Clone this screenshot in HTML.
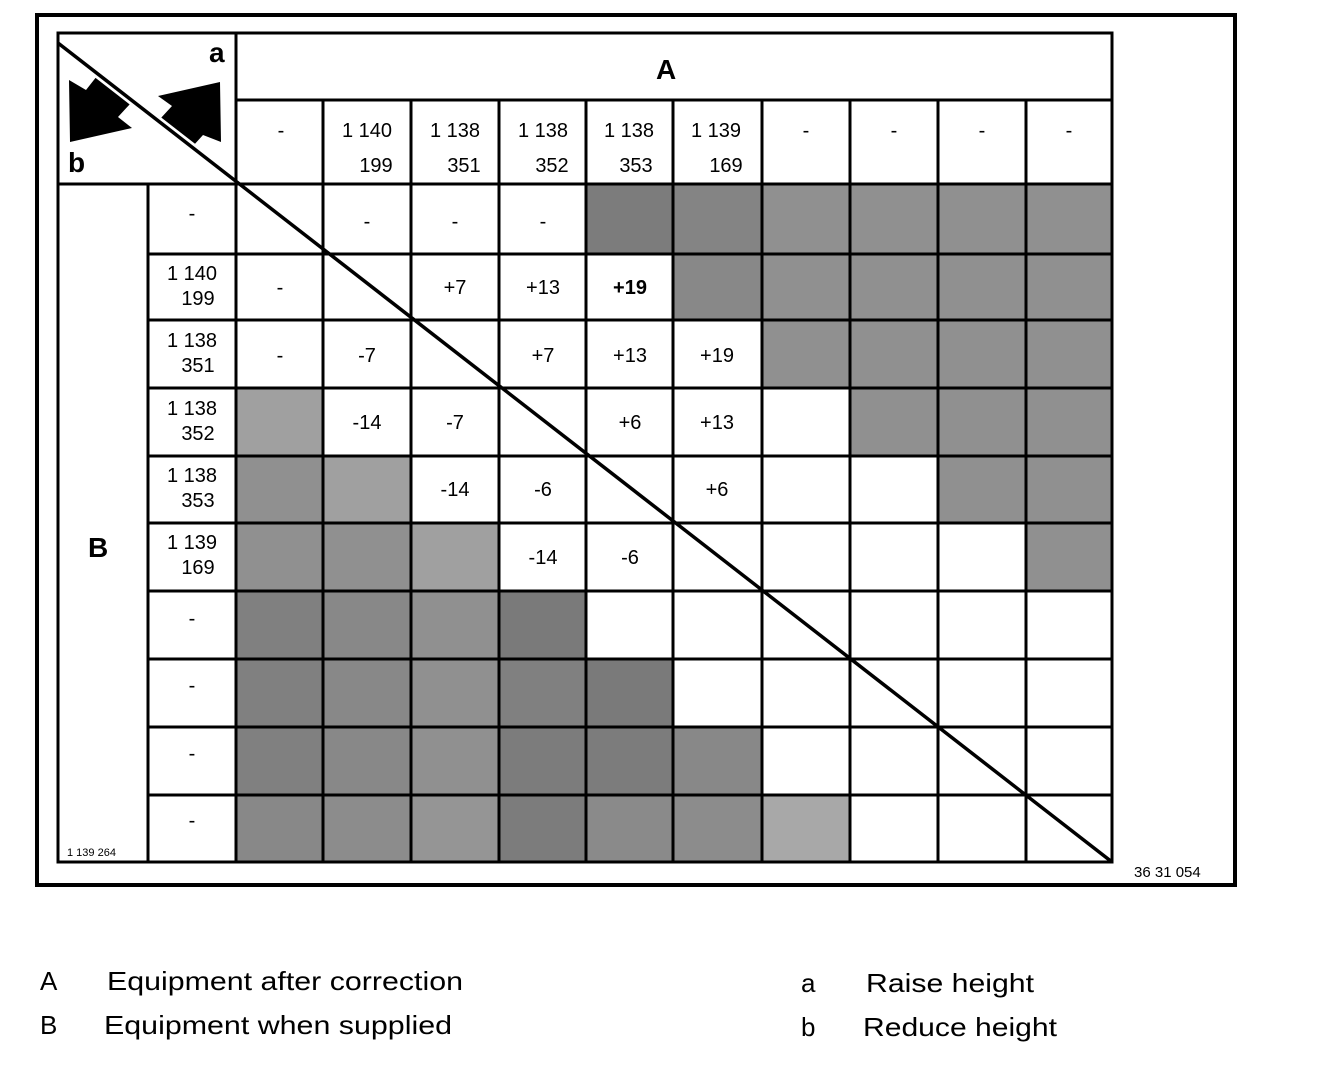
<!DOCTYPE html><html><head><meta charset="utf-8"><style>html,body{margin:0;padding:0;background:#fff}svg{display:block}</style></head><body>
<svg width="1328" height="1066" viewBox="0 0 1328 1066" xmlns="http://www.w3.org/2000/svg" font-family="Liberation Sans, sans-serif">
<rect x="0" y="0" width="1328" height="1066" fill="#fff"/>
<rect x="37" y="15" width="1198" height="870" fill="none" stroke="#000" stroke-width="4"/>
<g fill="#909090">
<rect x="586" y="184" width="87" height="70" fill="#7c7c7c"/><rect x="673" y="184" width="89" height="70" fill="#848484"/><rect x="762" y="184" width="88" height="70"/><rect x="850" y="184" width="88" height="70"/><rect x="938" y="184" width="88" height="70"/><rect x="1026" y="184" width="86" height="70"/>
<rect x="673" y="254" width="89" height="66" fill="#888"/><rect x="762" y="254" width="88" height="66"/><rect x="850" y="254" width="88" height="66"/><rect x="938" y="254" width="88" height="66"/><rect x="1026" y="254" width="86" height="66"/>
<rect x="762" y="320" width="88" height="68"/><rect x="850" y="320" width="88" height="68"/><rect x="938" y="320" width="88" height="68"/><rect x="1026" y="320" width="86" height="68"/>
<rect x="236" y="388" width="87" height="68" fill="#a0a0a0"/><rect x="850" y="388" width="88" height="68"/><rect x="938" y="388" width="88" height="68"/><rect x="1026" y="388" width="86" height="68"/>
<rect x="236" y="456" width="87" height="67"/><rect x="323" y="456" width="88" height="67" fill="#a0a0a0"/><rect x="938" y="456" width="88" height="67"/><rect x="1026" y="456" width="86" height="67"/>
<rect x="236" y="523" width="87" height="68"/><rect x="323" y="523" width="88" height="68"/><rect x="411" y="523" width="88" height="68" fill="#a0a0a0"/><rect x="1026" y="523" width="86" height="68"/>
<rect x="236" y="591" width="87" height="68" fill="#808080"/><rect x="323" y="591" width="88" height="68" fill="#888"/><rect x="411" y="591" width="88" height="68"/><rect x="499" y="591" width="87" height="68" fill="#7a7a7a"/>
<rect x="236" y="659" width="87" height="68" fill="#808080"/><rect x="323" y="659" width="88" height="68" fill="#888"/><rect x="411" y="659" width="88" height="68"/><rect x="499" y="659" width="87" height="68" fill="#808080"/><rect x="586" y="659" width="87" height="68" fill="#7a7a7a"/>
<rect x="236" y="727" width="87" height="68" fill="#808080"/><rect x="323" y="727" width="88" height="68" fill="#888"/><rect x="411" y="727" width="88" height="68"/><rect x="499" y="727" width="87" height="68" fill="#7c7c7c"/><rect x="586" y="727" width="87" height="68" fill="#7c7c7c"/><rect x="673" y="727" width="89" height="68" fill="#888"/>
<rect x="236" y="795" width="87" height="67" fill="#888"/><rect x="323" y="795" width="88" height="67" fill="#8c8c8c"/><rect x="411" y="795" width="88" height="67" fill="#959595"/><rect x="499" y="795" width="87" height="67" fill="#7c7c7c"/><rect x="586" y="795" width="87" height="67" fill="#8a8a8a"/><rect x="673" y="795" width="89" height="67" fill="#8c8c8c"/><rect x="762" y="795" width="88" height="67" fill="#a8a8a8"/>
</g>
<!-- arrows -->
<polygon points="69,80 86,90 97,76 130,104 118,117 132,128 70,142" fill="#000"/>
<polygon points="158,96 220,82 221,142 203,135 193,146 160,119 172,106" fill="#000"/>
<g stroke="#000" stroke-width="3" fill="none">
<rect x="58" y="33" width="1054" height="829"/>
<line x1="236" y1="33" x2="236" y2="862"/>
<line x1="236" y1="100" x2="1112" y2="100"/>
<line x1="58" y1="184" x2="1112" y2="184"/>
<line x1="148" y1="184" x2="148" y2="862"/>
<line x1="323" y1="100" x2="323" y2="862"/><line x1="411" y1="100" x2="411" y2="862"/><line x1="499" y1="100" x2="499" y2="862"/><line x1="586" y1="100" x2="586" y2="862"/><line x1="673" y1="100" x2="673" y2="862"/><line x1="762" y1="100" x2="762" y2="862"/><line x1="850" y1="100" x2="850" y2="862"/><line x1="938" y1="100" x2="938" y2="862"/><line x1="1026" y1="100" x2="1026" y2="862"/>
<line x1="148" y1="254" x2="1112" y2="254"/><line x1="148" y1="320" x2="1112" y2="320"/><line x1="148" y1="388" x2="1112" y2="388"/><line x1="148" y1="456" x2="1112" y2="456"/><line x1="148" y1="523" x2="1112" y2="523"/><line x1="148" y1="591" x2="1112" y2="591"/><line x1="148" y1="659" x2="1112" y2="659"/><line x1="148" y1="727" x2="1112" y2="727"/><line x1="148" y1="795" x2="1112" y2="795"/>
</g>
<line x1="58" y1="43" x2="1112" y2="862" stroke="#fff" stroke-width="9" clip-path="url(#c)"/>
<clipPath id="c"><rect x="60" y="70" width="165" height="80"/></clipPath>
<line x1="58" y1="43" x2="1112" y2="862" stroke="#000" stroke-width="3.5"/>
<g font-weight="bold" font-size="28" fill="#000">
<text x="209" y="62">a</text><text x="68" y="172">b</text>
<text x="656" y="79">A</text><text x="88" y="557">B</text>
</g>
<g font-size="20" fill="#000" text-anchor="middle">
<text x="281" y="137">-</text>
<text x="367" y="137">1 140</text><text x="376" y="172">199</text>
<text x="455" y="137">1 138</text><text x="464" y="172">351</text>
<text x="543" y="137">1 138</text><text x="552" y="172">352</text>
<text x="629" y="137">1 138</text><text x="636" y="172">353</text>
<text x="716" y="137">1 139</text><text x="726" y="172">169</text>
<text x="806" y="137">-</text><text x="894" y="137">-</text><text x="982" y="137">-</text><text x="1069" y="137">-</text>
<text x="192" y="220">-</text>
<text x="192" y="280">1 140</text><text x="198" y="305">199</text>
<text x="192" y="347">1 138</text><text x="198" y="372">351</text>
<text x="192" y="415">1 138</text><text x="198" y="440">352</text>
<text x="192" y="482">1 138</text><text x="198" y="507">353</text>
<text x="192" y="549">1 139</text><text x="198" y="574">169</text>
<text x="192" y="625">-</text><text x="192" y="692">-</text><text x="192" y="760">-</text><text x="192" y="827">-</text>
<text x="367" y="228">-</text><text x="455" y="228">-</text><text x="543" y="228">-</text>
<text x="280" y="294">-</text><text x="455" y="294">+7</text><text x="543" y="294">+13</text><text x="630" y="294" font-weight="bold">+19</text>
<text x="280" y="362">-</text><text x="367" y="362">-7</text><text x="543" y="362">+7</text><text x="630" y="362">+13</text><text x="717" y="362">+19</text>
<text x="367" y="429">-14</text><text x="455" y="429">-7</text><text x="630" y="429">+6</text><text x="717" y="429">+13</text>
<text x="455" y="496">-14</text><text x="543" y="496">-6</text><text x="717" y="496">+6</text>
<text x="543" y="564">-14</text><text x="630" y="564">-6</text>
</g>
<text x="67" y="856" font-size="11" fill="#000">1 139 264</text>
<text x="1134" y="877" font-size="15" fill="#000">36 31 054</text>
<g font-size="26" fill="#000">
<text x="40" y="990">A</text><text x="107" y="990" textLength="356" lengthAdjust="spacingAndGlyphs">Equipment after correction</text>
<text x="40" y="1034">B</text><text x="104" y="1034" textLength="348" lengthAdjust="spacingAndGlyphs">Equipment when supplied</text>
<text x="801" y="992">a</text><text x="866" y="992" textLength="168" lengthAdjust="spacingAndGlyphs">Raise height</text>
<text x="801" y="1036">b</text><text x="863" y="1036" textLength="194" lengthAdjust="spacingAndGlyphs">Reduce height</text>
</g>
</svg>
</body></html>
